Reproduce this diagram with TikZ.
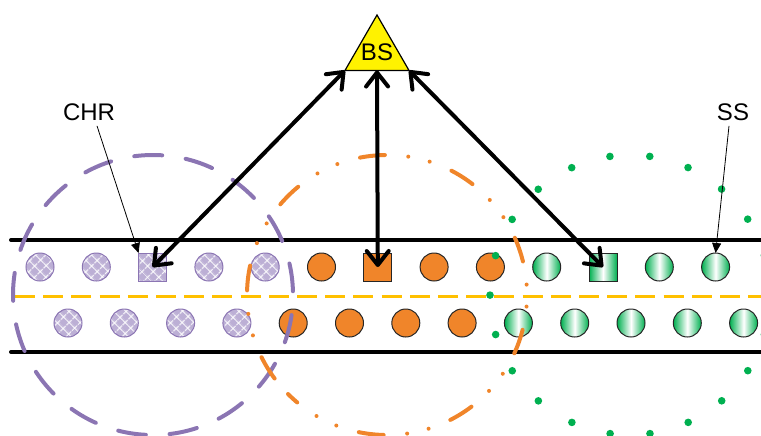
\documentclass[tikz,border=0pt]{standalone}
\usepackage{fontspec}
\setmainfont{Liberation Sans}
\usetikzlibrary{arrows.meta,shapes.geometric,patterns.meta}
\definecolor{chrfill}{HTML}{BCAFD5}
\definecolor{chrline}{HTML}{8B75B3}
\definecolor{puorange}{HTML}{F0852A}
\definecolor{ssgreen}{HTML}{00B050}
\definecolor{laneyellow}{HTML}{FFC000}
\tikzset{
  cell/.style={minimum size=14pt, inner sep=0pt, outer sep=0pt, line width=0.5pt},
  chr/.style={cell, draw=chrline, preaction={fill=chrfill},
    pattern={Hatch[angle=45,distance=4pt,line width=0.6pt]}, pattern color=white},
  pu/.style={cell, fill=puorange, draw=black!85},
  ss/.style={cell, left color=ssgreen, right color=ssgreen, middle color=white, draw=black!85},
  chrdisc/.style={chr, circle}, chrbox/.style={chr, rectangle},
  pudisc/.style={pu, circle},   pubox/.style={pu, rectangle},
  ssdisc/.style={ss, circle},   ssbox/.style={ss, rectangle},
  bsnode/.style={regular polygon, regular polygon sides=3, minimum size=37pt,
    inner sep=-4pt, outer sep=0pt, fill=yellow, draw=black, line width=0.6pt,
    font=\fontsize{12}{14}\selectfont},
  bslink/.style={{Straight Barb[length=7pt,width=11pt,round]}-{Straight Barb[length=7pt,width=11pt,round]},
    line width=2pt},
  lbl/.style={font=\fontsize{12}{14}\selectfont, inner sep=2.5pt},
  callout/.style={-{Triangle[length=5pt,width=4.5pt]}, line width=0.4pt},
  lane/.style={line width=2pt, line cap=round},
  chrcover/.style={chrline, line width=2pt, line cap=round,
    dash pattern=on 14pt off 11.87pt, dash phase=15.8pt},
  pucover/.style={puorange, line width=2pt, line cap=round,
    dash pattern=on 12.5pt off 11.8pt on 0pt off 11pt on 0pt off 11.74pt, dash phase=6.25pt},
  sscover/.style={ssgreen, line width=3.8pt, line cap=round, dash pattern=on 0pt off 19.99pt}
}

\begin{document}
\begin{tikzpicture}[x=0.5pt,y=-0.5pt]
  \useasboundingbox (0,0) rectangle (761,435);

  % road edges and centre line
  \draw[lane] (11,240) -- (761,240);
  \draw[lane] (11,352) -- (761,352);
  \draw[laneyellow, line width=1.5pt, dash pattern=on 10pt off 4.1pt] (15,296) -- (761,296);

  % upper and lower rows of users
  \foreach \i/\kind in {0/chrdisc,1/chrdisc,2/chrbox,3/chrdisc,4/chrdisc,5/pudisc,6/pubox,
                        7/pudisc,8/pudisc,9/ssdisc,10/ssbox,11/ssdisc,12/ssdisc}
    \node[\kind] (up\i) at ({40+56.3*\i},267) {};
  \foreach \i/\kind in {0/chrdisc,1/chrdisc,2/chrdisc,3/chrdisc,4/pudisc,5/pudisc,6/pudisc,
                        7/pudisc,8/ssdisc,9/ssdisc,10/ssdisc,11/ssdisc,12/ssdisc}
    \node[\kind] (dn\i) at ({68+56.3*\i},323) {};

  % coverage ranges
  \draw[chrcover] (153,295) circle[radius=140];
  \draw[pucover] (387,295) ++(135:140) arc[start angle=135, end angle=-225, radius=140];
  \draw[sscover] (630,295) circle[radius=140];

  % base station and its links
  \node[bsnode] (bs) at (377,52) {BS};
  \draw[bslink] (bs.corner 2) -- (up2.center);
  \draw[bslink] (bs.south) -- (up6.center);
  \draw[bslink] (bs.corner 3) -- (up10.center);

  \node[lbl] (chrlbl) at (89,112) {CHR};
  \node[lbl] (sslbl) at (733,112) {SS};
  \draw[callout] ([xshift=4pt]chrlbl.south) -- (up2.north west);
  \draw[callout] ([xshift=-2pt]sslbl.south) -- (up12.north);
\end{tikzpicture}
\end{document}
